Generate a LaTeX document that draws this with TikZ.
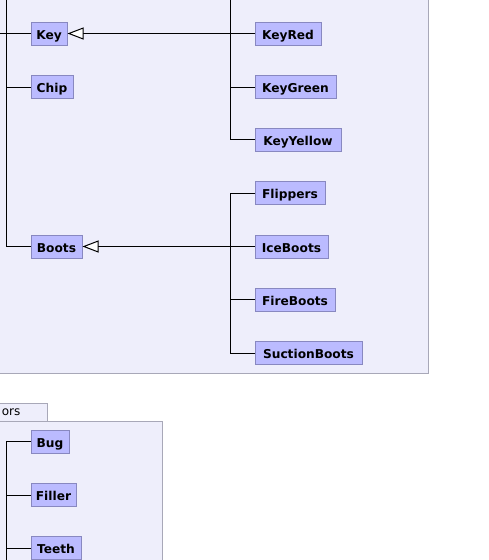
\documentclass[tikz,border=0pt]{standalone}
\usepackage{fontspec}
\setmainfont{DejaVu Sans}
\usetikzlibrary{arrows.meta}
\definecolor{pkgfill}{HTML}{EEEEFB}
\definecolor{pkgline}{HTML}{A8A8B8}
\definecolor{clsfill}{HTML}{BBBBFF}
\definecolor{clsline}{HTML}{8888C0}
\tikzset{
  cls/.style={draw=clsline, fill=clsfill, line width=1pt, minimum height=23pt, inner xsep=0pt, inner ysep=0pt,
    text height=11.6pt, text depth=0pt,
    font=\fontsize{12.2}{14}\selectfont\bfseries, text=black},
  pkg/.style={draw=pkgline, fill=pkgfill, line width=1pt},
  conn/.style={draw=black, line width=1pt},
  inh/.style={conn, -{Triangle[fill=white, length=16pt, width=12pt]}},
}
\begin{document}
\begin{tikzpicture}[x=1pt, y=-1pt]
\useasboundingbox (0,0) rectangle (488,560);
\clip (0,0) rectangle (488,560);
\fill[white] (0,0) rectangle (488,560);
% packages
\draw[pkg] (-10,-10) rectangle (428.5,373.5);
\draw[pkg] (-10,403.5) rectangle (47.5,421.5);
\draw[pkg] (-10,421.5) rectangle (162.5,580);
\node[anchor=east, inner sep=0pt, font=\fontsize{12}{14}\selectfont] (tab) at (20.5,412.5) {ors};
% classes
\node[cls, minimum width=36pt] (Key) at (49,33.5) {Key};
\node[cls, minimum width=42pt] (Chip) at (52,87) {Chip};
\node[cls, minimum width=66pt] (KeyRed) at (288,33.5) {KeyRed};
\node[cls, minimum width=81pt] (KeyGreen) at (295.5,87) {KeyGreen};
\node[cls, minimum width=86pt] (KeyYellow) at (298,139.5) {KeyYellow};
\node[cls, minimum width=51pt] (Boots) at (56.5,246.5) {Boots};
\node[cls, minimum width=70pt] (Flippers) at (290,193) {Flippers};
\node[cls, minimum width=73pt] (IceBoots) at (291.5,246.5) {IceBoots};
\node[cls, minimum width=80pt] (FireBoots) at (295,299.5) {FireBoots};
\node[cls, minimum width=107pt] (SuctionBoots) at (308.5,353) {SuctionBoots};
\node[cls, minimum width=38pt] (Bug) at (50,441.5) {Bug};
\node[cls, minimum width=45pt] (Filler) at (53.5,495) {Filler};
\node[cls, minimum width=50pt] (Teeth) at (56,548) {Teeth};
% junction coordinates
\coordinate (ltop) at (6.5,-10);
\coordinate (lleft) at (-10,33.5);
\coordinate (ktop) at (230.5,-10);
\coordinate (btop) at (230.5,193);
\coordinate (mbot) at (6.5,580);
% connectors
\draw[conn] (ltop) |- (Boots.west);
\draw[conn] (ltop |- Chip.west) -- (Chip.west);
\draw[conn] (lleft) -- (Key.west);
\draw[inh] (KeyRed.west) -- (Key.east);
\draw[conn] (ktop) |- (KeyYellow.west);
\draw[conn] (ktop |- KeyGreen.west) -- (KeyGreen.west);
\draw[inh] (IceBoots.west) -- (Boots.east);
\draw[conn] (Flippers.west) -- (btop) |- (SuctionBoots.west);
\draw[conn] (btop |- FireBoots.west) -- (FireBoots.west);
\draw[conn] (Bug.west) -| (mbot);
\draw[conn] (mbot |- Filler.west) -- (Filler.west);
\draw[conn] (mbot |- Teeth.west) -- (Teeth.west);
\end{tikzpicture}
\end{document}
